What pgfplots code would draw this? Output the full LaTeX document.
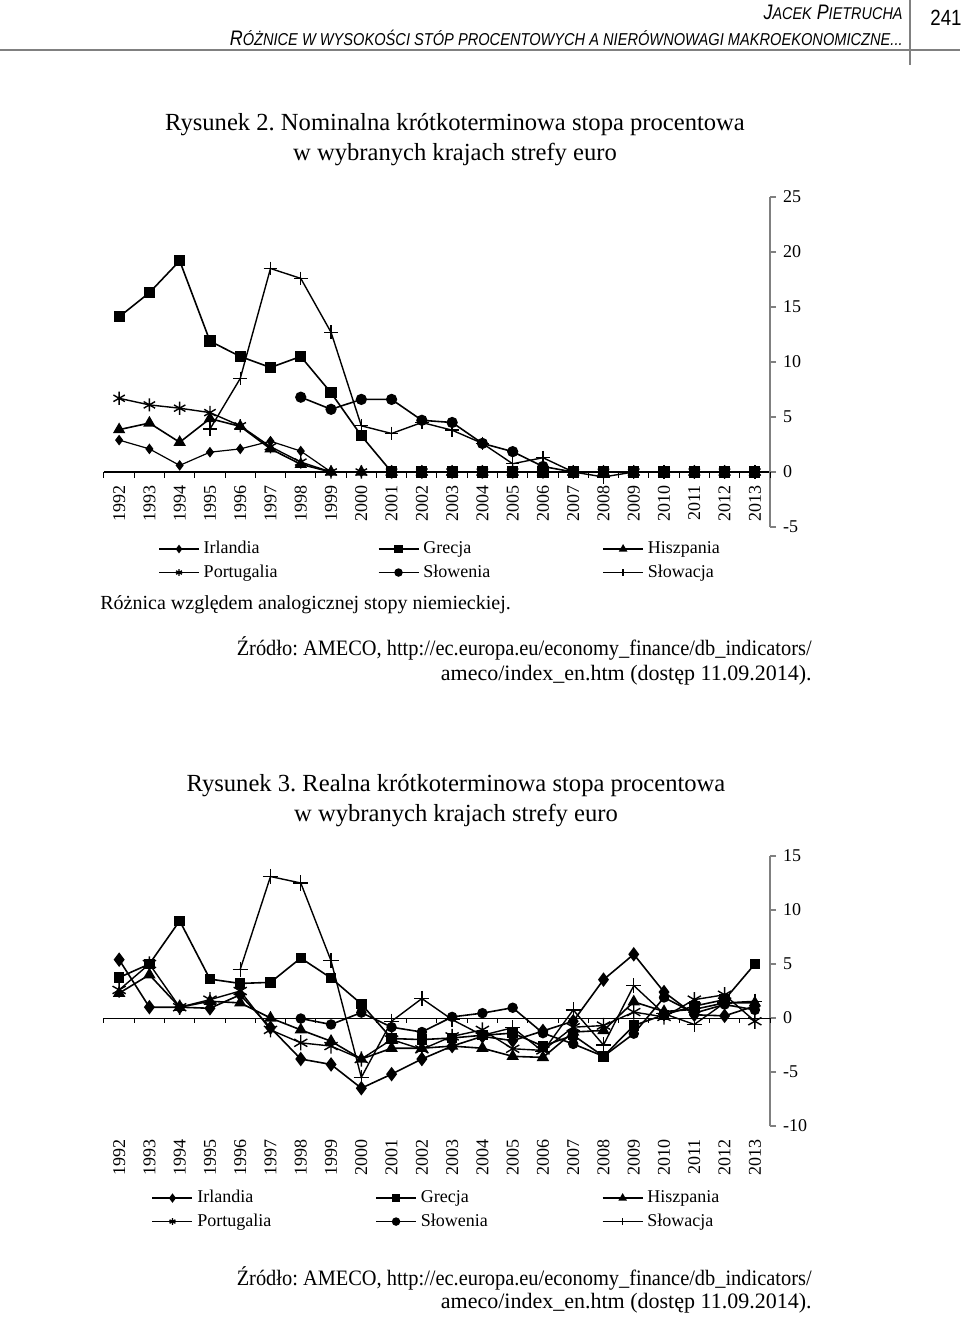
\documentclass[border=0pt]{standalone}
\usepackage{fontspec}
\setmainfont{Liberation Serif}
\newfontfamily\hdr[FakeStretch=0.85]{Liberation Sans}
\usepackage{pgfplots}
\pgfplotsset{compat=1.18}
\frenchspacing

% 1 px of the page = 0.5pt
\newcommand{\chartfont}{\fontsize{9}{10}\selectfont}

\pgfplotsset{
  rys/.style={
    scale only axis, width=333pt,
    xmin=-0.5, xmax=21.5,
    axis y line*=right,
    y axis line style={draw=gray, line width=0.6pt},
    ytick style={draw=gray, line width=0.6pt},
    tick align=outside,
    major tick length=3pt,
    xtick={0,...,21},
    xticklabels={1992,1993,1994,1995,1996,1997,1998,1999,2000,2001,2002,
      2003,2004,2005,2006,2007,2008,2009,2010,2011,2012,2013},
    xtick style={draw=none},
    xticklabel style={rotate=90, anchor=east, font=\chartfont},
    yticklabel style={font=\chartfont, anchor=west},
    clip=false,
    legend columns=3,
    legend cell align=left,
    legend style={draw=none, fill=none, inner sep=0pt, font=\chartfont,
      /tikz/column 2/.append style={column sep=48pt},
      /tikz/column 4/.append style={column sep=54pt}},
    legend image code/.code={
      \draw[mark repeat=2, mark phase=2, #1, mark size=1.7pt]
        plot coordinates {(0pt,0pt) (10pt,0pt) (20pt,0pt)};},
  },
  irl/.style={black, line width=0.6pt, mark=diamond*, mark size=2.2pt, mark options={solid}},
  gre/.style={black, line width=0.8pt, mark=square*, mark size=2.4pt},
  his/.style={black, line width=0.8pt, mark=triangle*, mark size=2.8pt},
  por/.style={black, line width=0.7pt, mark=asterisk, mark size=3.3pt},
  slo/.style={black, line width=0.8pt, mark=*, mark size=2.4pt},
  slk/.style={black, line width=0.7pt, mark=+, mark size=3.4pt},
}

\begin{document}
\begin{tikzpicture}
\path[use as bounding box] (0,0) rectangle (480pt,659.5pt);

% page header
\node[anchor=east, inner sep=0pt] at (451.5pt,653.5pt)
  {\hdr\itshape\fontsize{10.5}{12}\selectfont J{\fontsize{8.5}{10}\selectfont ACEK} P{\fontsize{8.5}{10}\selectfont IETRUCHA}};
\node[anchor=east, inner sep=0pt] at (451.5pt,640.5pt)
  {\hdr\itshape\fontsize{10.5}{12}\selectfont R{\fontsize{8.6}{10}\selectfont ÓŻNICE W WYSOKOŚCI STÓP PROCENTOWYCH A NIERÓWNOWAGI MAKROEKONOMICZNE...}};
\node[anchor=west, inner sep=0pt] at (465pt,650.5pt) {\hdr\fontsize{11}{12}\selectfont 241};
\draw[gray, line width=1pt] (0pt,634.5pt) -- (480pt,634.5pt);
\draw[gray, line width=0.6pt] (455pt,659.5pt) -- (455pt,627pt);

% figure 2
\node at (227.5pt,597pt) {\fontsize{12.3}{14}\selectfont Rysunek 2. Nominalna krótkoterminowa stopa procentowa};
\node at (227.5pt,582pt) {\fontsize{12.3}{14}\selectfont w wybranych krajach strefy euro};

\begin{axis}[rys, at={(52pt,396pt)}, anchor=south west, height=165pt,
  ymin=-5, ymax=25, ytick={-5,0,5,10,15,20,25},
  yticklabels={-5,0,5,10,15,20,25},
  axis x line*=middle,
  x axis line style={black, line width=0.9pt},
  legend style={at={(axis description cs:0.081,-0.03)}, anchor=north west}]
\pgfplotsinvokeforeach{-0.5,0.5,1.5,2.5,3.5,4.5,5.5,6.5,7.5,8.5,9.5,10.5,11.5,
  12.5,13.5,14.5,15.5,16.5,17.5,18.5,19.5,20.5,21.5}{
  \draw[black, line width=0.5pt] (axis cs:#1,0) -- ++(0pt,-3pt);}
\addplot[irl] coordinates {(0,2.9)(1,2.1)(2,0.6)(3,1.8)(4,2.1)(5,2.8)(6,1.9)
  (7,0)(8,0)(9,0)(10,0)(11,0)(12,0)(13,0)(14,0)(15,0)(16,0)(17,0)(18,0)(19,0)(20,0)(21,0)};
\addlegendentry{Irlandia}
\addplot[gre] coordinates {(0,14.1)(1,16.3)(2,19.2)(3,11.9)(4,10.5)(5,9.5)(6,10.5)
  (7,7.2)(8,3.3)(9,0)(10,0)(11,0)(12,0)(13,0)(14,0)(15,0)(16,0)(17,0)(18,0)(19,0)(20,0)(21,0)};
\addlegendentry{Grecja}
\addplot[his] coordinates {(0,3.85)(1,4.45)(2,2.7)(3,4.85)(4,4.15)(5,2.1)(6,0.7)
  (7,0)(8,0)(9,0)(10,0)(11,0)(12,0)(13,0)(14,0)(15,0)(16,0)(17,0)(18,0)(19,0)(20,0)(21,0)};
\addlegendentry{Hiszpania}
\addplot[por] coordinates {(0,6.7)(1,6.1)(2,5.8)(3,5.4)(4,4.2)(5,2.3)(6,0.9)
  (7,0)(8,0)(9,0)(10,0)(11,0)(12,0)(13,0)(14,0)(15,0)(16,0)(17,0)(18,0)(19,0)(20,0)(21,0)};
\addlegendentry{Portugalia}
\addplot[slo] coordinates {(6,6.8)(7,5.7)(8,6.6)(9,6.6)(10,4.7)(11,4.5)(12,2.6)
  (13,1.85)(14,0.5)(15,0)(16,0)(17,0)(18,0)(19,0)(20,0)(21,0)};
\addlegendentry{Słowenia}
\addplot[slk] coordinates {(3,3.9)(4,8.5)(5,18.5)(6,17.6)(7,12.7)(8,4.2)(9,3.5)
  (10,4.5)(11,3.8)(12,2.6)(13,0.75)(14,1.3)(15,0)(16,-0.45)(17,0)(18,0)(19,0)(20,0)(21,0)};
\addlegendentry{Słowacja}
\end{axis}

\node[anchor=west, inner sep=0pt] at (50pt,357pt) {\fontsize{10}{12}\selectfont Różnica względem analogicznej stopy niemieckiej.};
\node[anchor=east, inner sep=0pt] at (406pt,335.5pt) {\scalebox{0.927}[1]{\fontsize{11}{13}\selectfont Źródło: AMECO, http://ec.europa.eu/economy\_finance/db\_indicators/}};
\node[anchor=east, inner sep=0pt] at (406pt,322pt) {\fontsize{11}{13}\selectfont ameco/index\_en.htm (dostęp 11.09.2014).};

% figure 3
\node at (228pt,266.5pt) {\fontsize{12.3}{14}\selectfont Rysunek 3. Realna krótkoterminowa stopa procentowa};
\node at (228pt,252pt) {\fontsize{12.3}{14}\selectfont w wybranych krajach strefy euro};

\begin{axis}[rys, at={(52pt,96.5pt)}, anchor=south west, height=135pt,
  ymin=-10, ymax=15, ytick={-10,-5,0,5,10,15},
  yticklabels={-10,-5,0,5,10,15},
  axis x line*=bottom,
  x axis line style={draw=none},
  legend style={at={(axis description cs:0.071,-0.222)}, anchor=north west,
    /tikz/column 2/.append style={column sep=50pt},
    /tikz/column 4/.append style={column sep=55pt}}]
\draw[black, line width=0.5pt] (axis cs:-0.5,0) -- (axis cs:21.5,0);
\pgfplotsinvokeforeach{-0.5,0.5,1.5,2.5,3.5,4.5,5.5,6.5,7.5,8.5,9.5,10.5,11.5,
  12.5,13.5,14.5,15.5,16.5,17.5,18.5,19.5,20.5,21.5}{
  \draw[black, line width=0.5pt] (axis cs:#1,0) -- ++(0pt,-2.5pt);}
\addplot[irl, line width=0.8pt, mark size=3pt] coordinates {(0,5.4)(1,1.0)(2,1.0)(3,0.9)(4,2.15)(5,-0.9)(6,-3.8)
  (7,-4.3)(8,-6.5)(9,-5.2)(10,-3.8)(11,-2.6)(12,-1.7)(13,-2.1)(14,-1.2)(15,-0.3)
  (16,3.55)(17,5.9)(18,2.4)(19,0.3)(20,0.2)(21,1.1)};
\addlegendentry{Irlandia}
\addplot[gre, mark size=2.2pt] coordinates {(0,3.75)(1,5.0)(2,9.0)(3,3.6)(4,3.2)(5,3.3)(6,5.55)
  (7,3.7)(8,1.3)(9,-1.9)(10,-2.0)(11,-1.85)(12,-1.6)(13,-1.4)(14,-2.6)(15,-1.6)
  (16,-3.55)(17,-0.7)(18,0.3)(19,1.1)(20,1.7)(21,5.0)};
\addlegendentry{Grecja}
\addplot[his] coordinates {(0,2.3)(1,4.0)(2,1.0)(3,1.55)(4,1.4)(5,0)(6,-1.1)
  (7,-2.15)(8,-3.8)(9,-2.8)(10,-2.8)(11,-2.6)(12,-2.8)(13,-3.55)(14,-3.65)(15,-1.3)
  (16,-1.15)(17,1.5)(18,0.6)(19,0.8)(20,1.4)(21,1.4)};
\addlegendentry{Hiszpania}
\addplot[por, mark size=3.8pt] coordinates {(0,2.6)(1,5.0)(2,1.0)(3,1.7)(4,2.5)(5,-1.1)(6,-2.3)
  (7,-2.6)(8,-3.8)(9,-2.0)(10,-2.9)(11,-1.7)(12,-1.1)(13,-2.85)(14,-3.0)(15,-0.85)
  (16,-0.7)(17,0.55)(18,0.1)(19,1.7)(20,2.15)(21,-0.3)};
\addlegendentry{Portugalia}
\addplot[slo, mark size=2.2pt] coordinates {(6,-0.05)(7,-0.6)(8,0.5)(9,-0.85)(10,-1.3)(11,0.1)
  (12,0.45)(13,0.95)(14,-1.4)(15,-2.4)(16,-3.55)(17,-1.45)(18,1.9)(19,0.45)(20,1.25)(21,0.75)};
\addlegendentry{Słowenia}
\addplot[slk, mark size=3.8pt] coordinates {(4,4.5)(5,13.1)(6,12.5)(7,5.3)(8,-5.5)(9,-0.3)(10,1.8)
  (11,-0.15)(12,-1.6)(13,-0.9)(14,-3.1)(15,0.75)(16,-2.5)(17,3.0)(18,0.4)(19,-0.6)
  (20,1.4)(21,1.55)};
\addlegendentry{Słowacja}
\end{axis}

\node[anchor=east, inner sep=0pt] at (406pt,20.5pt) {\scalebox{0.927}[1]{\fontsize{11}{13}\selectfont Źródło: AMECO, http://ec.europa.eu/economy\_finance/db\_indicators/}};
\node[anchor=east, inner sep=0pt] at (406pt,8pt) {\fontsize{11}{13}\selectfont ameco/index\_en.htm (dostęp 11.09.2014).};
\end{tikzpicture}
\end{document}
